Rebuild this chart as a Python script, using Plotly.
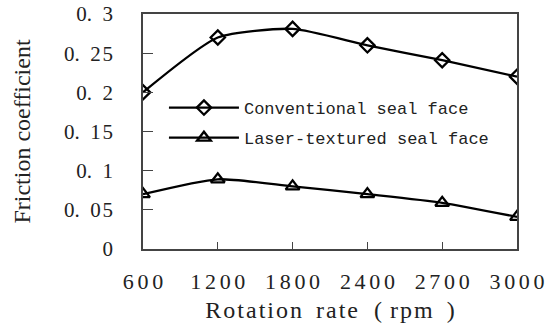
import plotly.graph_objects as go

rpm = ["600", "1200", "1800", "2400", "2700", "3000"]
conventional = [0.20, 0.27, 0.281, 0.26, 0.241, 0.22]
laser = [0.07, 0.089, 0.08, 0.07, 0.059, 0.041]
ytick_vals = [0, 0.05, 0.1, 0.15, 0.2, 0.25, 0.3]
ytick_text = ["0", "0.\u20020\u200a5", "0.\u20021", "0.\u20021\u200a5", "0.\u20022", "0.\u20022\u200a5", "0.\u20023"]
S = "\u2006"
xtick_text = [S.join(t) for t in rpm]
H = "\u200a"
x_title = (H.join("Rotation") + "\u2002" + H + H.join("rate") + "\u2002\u2006(\u2006\u2006"
           + H.join("rpm") + "\u2002" + H + ")")

fig = go.Figure()
fig.add_trace(go.Scatter(
    x=rpm, y=conventional, name="Conventional seal face", legendgroup="a",
    mode="lines+markers", line=dict(color="black", width=2.3, shape="spline", smoothing=0.6),
    marker=dict(symbol="diamond-open", size=11, color="black", line=dict(width=2.3)),
))
fig.add_trace(go.Scatter(
    x=rpm, y=laser, name="Laser-textured seal face", legendgroup="b",
    mode="lines+markers", line=dict(color="black", width=2.3, shape="spline", smoothing=0.6),
    marker=dict(symbol="triangle-up-open", size=12, color="black", line=dict(width=2.3)),
))

axis_common = dict(showline=True, linecolor="#444", linewidth=1.5, mirror=True, automargin=False,
                   ticks="inside", tickcolor="#444", showgrid=False, zeroline=False)

fig.update_layout(
    width=546, height=326,
    margin=dict(l=143, r=29, t=14, b=77),
    paper_bgcolor="white", plot_bgcolor="white",
    font=dict(family="Liberation Serif", color="#222", size=18),
    xaxis=dict(**axis_common, type="category", tickvals=rpm, ticktext=xtick_text,
               ticklen=7, tickfont=dict(size=22), range=[0, 5], ticklabelstandoff=12,
               title=dict(text=x_title, font=dict(size=24), standoff=8)),
    yaxis=dict(**axis_common, range=[0, 0.3], tickvals=ytick_vals, ticktext=ytick_text,
               ticklen=10, tickfont=dict(size=21), ticklabelstandoff=24,
               title=dict(text="Friction coefficient", font=dict(size=24), standoff=27)),
    legend=dict(x=0.056, y=0.536, xanchor="left", yanchor="middle", itemwidth=70,
                bgcolor="rgba(0,0,0,0)", font=dict(family="Liberation Mono", size=17),
                traceorder="grouped", tracegroupgap=5),
)
fig.write_html("out.html")
